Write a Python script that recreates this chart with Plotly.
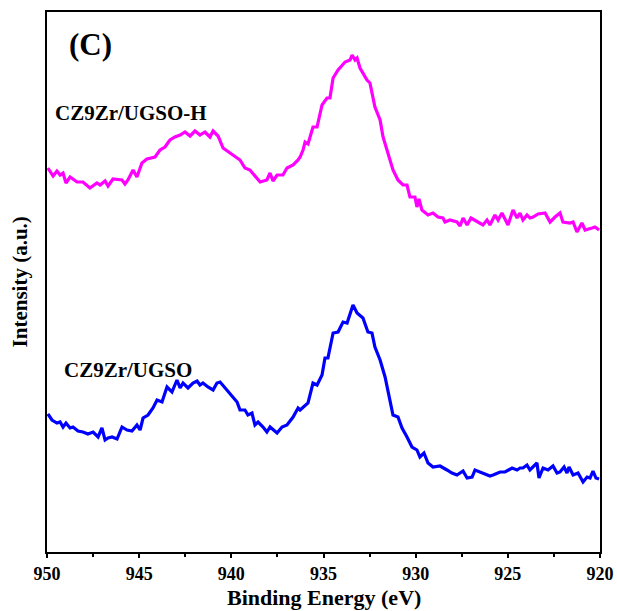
import plotly.graph_objects as go

# Sample CZ9Zr/UGSO-H (magenta): binding energy (eV) and intensity (a.u.)
energy_h = [949.95, 949.67, 949.46, 949.29, 949.13, 948.97, 948.75, 948.37, 948.05, 947.67,
            947.29, 947.12, 946.85, 946.69, 946.42, 945.93, 945.77, 945.61, 945.33, 945.12,
            944.85, 944.58, 944.14, 943.87, 943.60, 943.33, 943.06, 942.78, 942.51, 942.24,
            941.97, 941.70, 941.43, 941.16, 940.99, 940.72, 940.45, 940.07, 939.53, 939.26,
            938.99, 938.44, 938.07, 937.90, 937.74, 937.52, 937.20, 936.98, 936.65, 936.38,
            936.27, 936.11, 936.00, 935.84, 935.57, 935.35, 935.08, 934.81, 934.65, 934.48,
            934.21, 933.83, 933.56, 933.45, 933.29, 933.18, 933.02, 932.64, 932.48, 932.21,
            931.93, 931.77, 931.50, 931.23, 930.96, 930.69, 930.47, 930.31, 930.04, 929.93,
            929.82, 929.66, 929.33, 929.06, 928.79, 928.52, 928.41, 928.14, 927.76, 927.59,
            927.43, 927.21, 927.00, 926.67, 926.35, 926.13, 925.97, 925.70, 925.53, 925.32,
            924.99, 924.72, 924.50, 924.34, 924.18, 923.96, 923.80, 923.63, 923.36, 922.98,
            922.71, 922.44, 922.17, 922.01, 921.63, 921.46, 921.25, 920.98, 920.81, 920.43,
            920.27, 920.05]
intensity_h = [384, 376, 381, 377, 379, 369, 375, 370, 370, 364,
               369, 367, 371, 366, 373, 372, 368, 372, 382, 375,
               389, 393, 395, 402, 405, 412, 415, 417, 420, 416,
               421, 417, 420, 415, 421, 416, 404, 399, 392, 384,
               382, 370, 372, 379, 371, 377, 377, 384, 387, 392,
               395, 402, 410, 408, 425, 425, 447, 454, 454, 474,
               482, 490, 492, 497, 492, 494, 484, 472, 469, 445,
               432, 415, 399, 382, 372, 367, 367, 355, 355, 345,
               353, 342, 337, 339, 335, 334, 330, 332, 330, 326,
               334, 327, 334, 330, 327, 332, 327, 337, 332, 339,
               327, 342, 334, 339, 332, 337, 334, 335, 338, 339,
               330, 335, 339, 330, 329, 330, 320, 329, 322, 324,
               325, 322]

# Sample CZ9Zr/UGSO (blue)
energy_u = [949.95, 949.73, 949.46, 949.29, 949.13, 948.97, 948.75, 948.59, 948.32, 948.05,
            947.78, 947.50, 947.23, 947.02, 946.85, 946.69, 946.47, 946.20, 945.93, 945.66,
            945.39, 945.12, 944.95, 944.79, 944.52, 944.25, 944.03, 943.76, 943.60, 943.49,
            943.22, 942.95, 942.78, 942.62, 942.35, 942.08, 941.86, 941.70, 941.54, 941.27,
            940.99, 940.78, 940.61, 940.34, 939.96, 939.69, 939.53, 939.26, 939.10, 938.88,
            938.72, 938.55, 938.28, 938.07, 937.90, 937.52, 937.25, 936.98, 936.65, 936.38,
            936.27, 936.00, 935.84, 935.57, 935.35, 935.08, 934.92, 934.76, 934.48, 934.21,
            933.94, 933.72, 933.40, 933.18, 933.07, 932.86, 932.59, 932.37, 932.21, 931.93,
            931.66, 931.39, 931.23, 930.96, 930.74, 930.47, 930.20, 929.93, 929.77, 929.55,
            929.33, 929.06, 928.68, 928.30, 928.03, 927.76, 927.43, 927.21, 926.94, 926.78,
            926.40, 925.97, 925.80, 925.42, 925.15, 924.77, 924.50, 924.34, 924.18, 923.96,
            923.80, 923.42, 923.31, 923.09, 922.82, 922.55, 922.33, 922.17, 921.95, 921.79,
            921.68, 921.46, 921.19, 920.92, 920.70, 920.54, 920.38, 920.22, 920.05]
intensity_u = [138, 132, 129, 130, 125, 129, 124, 125, 121, 120,
               118, 120, 115, 124, 112, 114, 115, 113, 125, 122,
               121, 127, 122, 134, 137, 144, 152, 150, 159, 165,
               160, 172, 164, 169, 164, 169, 171, 167, 169, 165,
               162, 169, 170, 164, 155, 150, 142, 142, 137, 139,
               127, 130, 125, 120, 125, 119, 125, 127, 135, 144,
               142, 147, 149, 169, 167, 177, 194, 194, 219, 220,
               230, 229, 247, 239, 237, 234, 220, 219, 205, 192,
               175, 152, 137, 135, 124, 115, 105, 102, 95, 99,
               89, 85, 86, 82, 79, 77, 81, 74, 75, 82,
               79, 76, 77, 80, 80, 84, 82, 84, 84, 87,
               82, 89, 74, 84, 82, 86, 79, 80, 85, 79,
               85, 77, 79, 70, 75, 74, 81, 74, 73]

x_ticks = [950, 945, 940, 935, 930, 925, 920]
x_minor = [947.5, 942.5, 937.5, 932.5, 927.5, 922.5]
FONT = "Liberation Serif"

fig = go.Figure()
fig.add_trace(go.Scatter(x=energy_h, y=intensity_h, mode="lines",
                         line=dict(color="#FF00FF", width=3.2), name="CZ9Zr/UGSO-H"))
fig.add_trace(go.Scatter(x=energy_u, y=intensity_u, mode="lines",
                         line=dict(color="#0000FF", width=3.2), name="CZ9Zr/UGSO"))

fig.update_layout(
    width=617, height=611,
    margin=dict(l=47, r=17, t=12, b=59, autoexpand=False),
    paper_bgcolor="white", plot_bgcolor="white",
    showlegend=False,
    font=dict(family=FONT, color="black"),
)
fig.update_xaxes(
    range=[950, 920], autorange=False, automargin=False,
    tickmode="array", tickvals=x_ticks, ticktext=[f"<b>{v}</b>" for v in x_ticks],
    ticks="outside", ticklen=4, tickwidth=1.5, tickcolor="black",
    ticklabelstandoff=1,
    minor=dict(tickvals=x_minor, ticks="outside", ticklen=3, tickwidth=1.5, tickcolor="black"),
    showline=True, linecolor="black", linewidth=1.5, mirror=True,
    showgrid=False, zeroline=False,
    tickfont=dict(family=FONT, size=18, color="black"),
)
fig.update_yaxes(
    range=[0, 540], autorange=False, automargin=False,
    showticklabels=False, ticks="",
    showline=True, linecolor="black", linewidth=1.5, mirror=True,
    showgrid=False, zeroline=False,
)

ann = [
    dict(text="<b>(C)</b>", x=0.037, y=0.94, font=dict(size=31), xanchor="left", yanchor="middle"),
    dict(text="<b>CZ9Zr/UGSO-H</b>", x=0.010, y=0.813, font=dict(size=21), xanchor="left", yanchor="middle"),
    dict(text="<b>CZ9Zr/UGSO</b>", x=0.028, y=0.337, font=dict(size=21), xanchor="left", yanchor="middle"),
]
for a in ann:
    fig.add_annotation(xref="paper", yref="paper", showarrow=False, **a)

fig.add_annotation(xref="paper", yref="paper", x=0.5, y=-0.085, yanchor="middle",
                   text="<b>Binding Energy (eV)</b>", showarrow=False, font=dict(size=22))
fig.add_annotation(xref="paper", yref="paper", x=-0.048, y=0.5, xanchor="center", yanchor="middle",
                   textangle=-90, text="<b>Intensity (a.u.)</b>", showarrow=False, font=dict(size=21))

fig.write_html("out.html",
               config={"displayModeBar": False, "responsive": False},
               post_script="document.body.style.margin='0';")
